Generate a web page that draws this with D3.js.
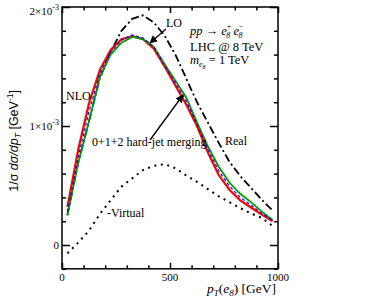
<!DOCTYPE html>
<html>
<head>
<meta charset="utf-8">
<script src="https://cdn.jsdelivr.net/npm/d3@7"></script>
<style>
  body { margin: 0; background: #fff; }
  text { font-family: "Liberation Serif", "Times New Roman", serif; fill: #000; }
</style>
</head>
<body>
<svg id="chart" width="378" height="301"></svg>
<script>
// pT bin centres (GeV) and distributions in units of 1e-3 GeV^-1
const ptBins = [25, 75, 125, 175, 225, 275, 325, 375, 425, 475, 525, 575, 625, 675, 725, 775, 825, 875, 925, 975];
const nloValues = [0.32, 0.80, 1.19, 1.47, 1.64, 1.73, 1.756, 1.73, 1.65, 1.50, 1.34, 1.18, 1.00, 0.78, 0.59, 0.465, 0.375, 0.315, 0.255, 0.20];
const loValues = [0.28, 0.74, 1.12, 1.44, 1.62, 1.72, 1.765, 1.74, 1.665, 1.51, 1.36, 1.21, 1.015, 0.805, 0.625, 0.495, 0.40, 0.335, 0.265, 0.205];
const mergedValues = [0.25, 0.69, 1.04, 1.41, 1.60, 1.70, 1.748, 1.73, 1.665, 1.52, 1.38, 1.24, 1.03, 0.83, 0.66, 0.525, 0.43, 0.36, 0.28, 0.21];
const realValues = [0.25, 0.69, 1.04, 1.40, 1.62, 1.80, 1.90, 1.93, 1.87, 1.76, 1.60, 1.40, 1.20, 1.03, 0.86, 0.70, 0.58, 0.48, 0.38, 0.29];
const virtualValues = [-0.07, 0.02, 0.12, 0.26, 0.375, 0.49, 0.56, 0.63, 0.665, 0.68, 0.645, 0.585, 0.53, 0.47, 0.41, 0.36, 0.31, 0.265, 0.228, 0.16];

const xMajor = [0, 500, 1000];
const xMinor = [100, 200, 300, 400, 600, 700, 800, 900];
const yMajor = [0, 1, 2];
const yMinor = [-0.2, 0.2, 0.4, 0.6, 0.8, 1.2, 1.4, 1.6, 1.8];

const svg = d3.select('#chart');
const pLeft = 62;
const pRight = 278;
const pTop = 7;
const pBottom = 268.8;

const x = d3.scaleLinear().domain([0, 1000]).range([pLeft, pRight]);
const y = d3.scaleLinear().domain([-0.2, 2]).range([pBottom, pTop]);

// curves
const line = (vals) => d3.line()
    .x((d, i) => x(ptBins[i]))
    .y((d) => y(d))(vals);

svg.append('path')
    .attr('d', line(virtualValues))
    .attr('fill', 'none')
    .attr('stroke', 'black')
    .attr('stroke-width', 2)
    .attr('stroke-dasharray', '2,4.6');

svg.append('path')
    .attr('d', line(realValues))
    .attr('fill', 'none')
    .attr('stroke', 'black')
    .attr('stroke-width', 1.8)
    .attr('stroke-dasharray', '8,3,2,3');

svg.append('path')
    .attr('d', line(nloValues))
    .attr('fill', 'none')
    .attr('stroke', '#ff0000')
    .attr('stroke-width', 2.2);

svg.append('path')
    .attr('d', line(mergedValues))
    .attr('fill', 'none')
    .attr('stroke', '#009a00')
    .attr('stroke-width', 1.8);

svg.append('path')
    .attr('d', line(loValues))
    .attr('fill', 'none')
    .attr('stroke', '#0000ff')
    .attr('stroke-width', 1.2)
    .attr('stroke-dasharray', '3,2.5');

// frame and ticks
svg.append('rect')
    .attr('x', pLeft)
    .attr('y', pTop)
    .attr('width', pRight - pLeft)
    .attr('height', pBottom - pTop)
    .attr('fill', 'none')
    .attr('stroke', 'black')
    .attr('stroke-width', 1.5);

function tickGroup(axis, transform) {
    const g = svg.append('g').attr('transform', transform).call(axis);
    g.select('.domain').remove();
    g.selectAll('line').attr('stroke-width', 1.5);
    g.selectAll('text').remove();
}

tickGroup(d3.axisBottom(x).tickValues(xMajor).tickSize(-6), `translate(0,${pBottom})`);
tickGroup(d3.axisBottom(x).tickValues(xMinor).tickSize(-3.5), `translate(0,${pBottom})`);
tickGroup(d3.axisTop(x).tickValues(xMajor).tickSize(-6), `translate(0,${pTop})`);
tickGroup(d3.axisTop(x).tickValues(xMinor).tickSize(-3.5), `translate(0,${pTop})`);
tickGroup(d3.axisLeft(y).tickValues(yMajor).tickSize(-8), `translate(${pLeft},0)`);
tickGroup(d3.axisLeft(y).tickValues(yMinor).tickSize(-4), `translate(${pLeft},0)`);
tickGroup(d3.axisRight(y).tickValues(yMajor).tickSize(-8), `translate(${pRight},0)`);
tickGroup(d3.axisRight(y).tickValues(yMinor).tickSize(-4), `translate(${pRight},0)`);

// tick labels
xMajor.forEach((v) => {
    svg.append('text')
        .attr('x', x(v))
        .attr('y', 281)
        .attr('text-anchor', 'middle')
        .attr('font-size', 11)
        .text(v);
});

yMajor.forEach((v) => {
    const t = svg.append('text')
        .attr('x', pLeft - 3)
        .attr('y', v === 2 ? 15 : y(v) + 4)
        .attr('text-anchor', 'end')
        .attr('font-size', 11);
    if (v === 0) {
        t.text('0');
    } else {
        t.append('tspan').text(`${v}×10`);
        t.append('tspan').attr('dy', -5).attr('font-size', 8).text('-3');
    }
});

// axis titles
const yTitle = svg.append('text')
    .attr('transform', `translate(18,${(pTop + pBottom) / 2 + 3}) rotate(-90)`)
    .attr('text-anchor', 'middle')
    .style('font-family', '"Liberation Sans", Arial, sans-serif')
    .attr('font-size', 12.5);
yTitle.append('tspan').text('1/σ ');
yTitle.append('tspan').attr('font-style', 'italic').text('dσ/dp');
yTitle.append('tspan').attr('font-style', 'italic').attr('font-size', 8.5).attr('dy', 3).text('T');
yTitle.append('tspan').attr('dy', -3).text(' [GeV');
yTitle.append('tspan').attr('font-size', 8.5).attr('dy', -5).text('-1');
yTitle.append('tspan').attr('dy', 5).text(']');

const xTitle = svg.append('text')
    .attr('x', 276)
    .attr('y', 293)
    .attr('text-anchor', 'end')
    .attr('font-size', 13.5);
xTitle.append('tspan').attr('font-style', 'italic').text('p');
xTitle.append('tspan').attr('font-style', 'italic').attr('font-size', 9).attr('dy', 3).text('T');
xTitle.append('tspan').attr('dy', -3).text('(');
xTitle.append('tspan').attr('font-style', 'italic').text('e');
xTitle.append('tspan').attr('font-style', 'italic').attr('font-size', 9).attr('dy', 3).text('8');
xTitle.append('tspan').attr('dy', -3).text(') [GeV]');

// annotations
function label(tx, ty, str) {
    return svg.append('text').attr('x', tx).attr('y', ty).attr('font-size', 12).text(str);
}
label(166, 27, 'LO');
label(66, 100, 'NLO');
label(92, 146, '0+1+2 hard-jet merging');
label(225, 145, 'Real');
label(107, 217, '-Virtual');

const proc = svg.append('text').attr('x', 190).attr('y', 35).attr('font-size', 12.5);
proc.append('tspan').attr('font-style', 'italic').text('pp');
proc.append('tspan').text(' → ');
proc.append('tspan').attr('font-style', 'italic').text('e');
proc.append('tspan').attr('font-size', 8).attr('dy', -6.5).text('+');
proc.append('tspan').attr('font-size', 8).attr('font-style', 'italic').attr('dx', -5).attr('dy', 9).text('8');
proc.append('tspan').attr('font-style', 'italic').attr('dy', -2.5).text(' e');
proc.append('tspan').attr('font-size', 8).attr('dy', -6.5).text('−');
proc.append('tspan').attr('font-size', 8).attr('font-style', 'italic').attr('dx', -5).attr('dy', 9).text('8');

svg.append('text').attr('x', 190).attr('y', 50.5).attr('font-size', 12.5).text('LHC @ 8 TeV');

const mass = svg.append('text').attr('x', 190).attr('y', 63.5).attr('font-size', 12.5);
mass.append('tspan').attr('font-style', 'italic').text('m');
mass.append('tspan').attr('font-style', 'italic').attr('font-size', 8).attr('dy', 3).text('e');
mass.append('tspan').attr('font-style', 'italic').attr('font-size', 6).attr('dy', 2).text('8');
mass.append('tspan').attr('dy', -5).text(' = 1 TeV');

// arrows
svg.append('defs').append('marker')
    .attr('id', 'head')
    .attr('viewBox', '0 0 10 10')
    .attr('refX', 9)
    .attr('refY', 5)
    .attr('markerWidth', 8)
    .attr('markerHeight', 8)
    .attr('markerUnits', 'userSpaceOnUse')
    .attr('orient', 'auto')
    .append('path')
    .attr('d', 'M0,0 L10,5 L0,10 z')
    .attr('fill', 'black');

svg.append('line')
    .attr('x1', 166).attr('y1', 29)
    .attr('x2', 150).attr('y2', 43)
    .attr('stroke', 'black')
    .attr('stroke-width', 1.3)
    .attr('marker-end', 'url(#head)');

svg.append('line')
    .attr('x1', 150).attr('y1', 140)
    .attr('x2', 183).attr('y2', 95)
    .attr('stroke', 'black')
    .attr('stroke-width', 1.3)
    .attr('marker-end', 'url(#head)');
</script>
</body>
</html>
